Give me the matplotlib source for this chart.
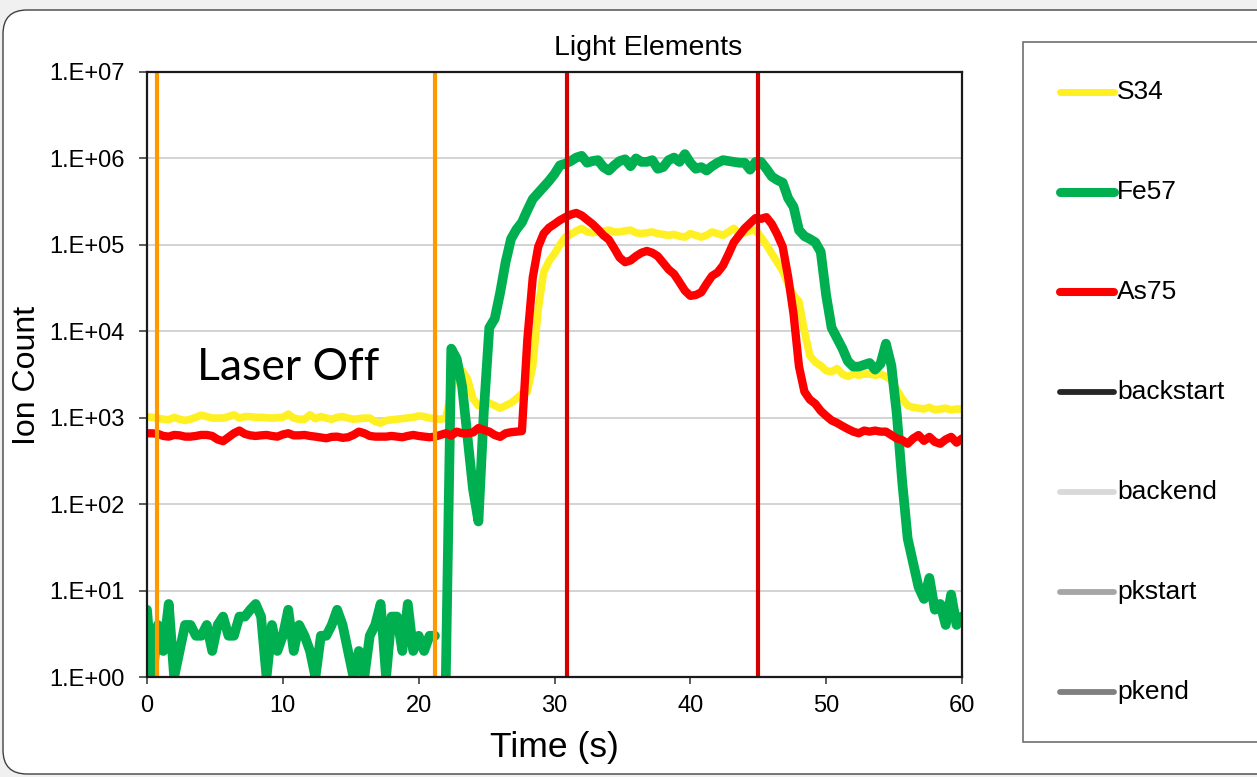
import numpy as np
import matplotlib.pyplot as plt
from matplotlib.lines import Line2D
from matplotlib.patches import FancyBboxPatch, Rectangle
from matplotlib.ticker import FuncFormatter, NullLocator
from matplotlib.transforms import IdentityTransform

W, H = 1257, 777

# one reading every 0.4 s, 0..60 s
dt = 0.4

s34 = [1030, 1010, 990, 960, 945, 1010, 960, 930, 960, 1010,
       1070, 1030, 990, 990, 990, 1030, 1080, 990, 1030, 1030,
       1010, 1010, 1000, 990, 1000, 1010, 1100, 990, 960, 960,
       1080, 975, 1030, 990, 960, 1010, 1030, 990, 960, 975,
       990, 990, 900, 865, 930, 945, 960, 975, 990, 1010,
       1050, 1030, 990, 975, 960, 990,
       2000, 4000, 3500, 2800, 1660, 1380, 1410, 1480, 1380, 1290,
       1380, 1480, 1660, 1900, 2000, 4000, 18000, 48000, 65000, 79000,
       100000, 123000, 132000, 145000, 155000, 141000, 138000, 141000, 145000, 148000,
       141000, 141000, 145000, 148000, 138000, 135000, 138000, 141000, 135000, 132000,
       129000, 132000, 126000, 123000, 135000, 129000, 123000, 129000, 141000, 135000,
       129000, 141000, 155000, 135000, 138000, 145000, 148000, 123000, 100000, 79000,
       63000, 50000, 35000, 26000, 22000, 10000, 5200, 4400, 4000, 3500,
       3400, 3700, 3200, 3000, 3200, 3100, 3200, 3200, 3100, 3200,
       3000, 2700, 2100, 1660, 1380, 1320, 1290, 1260, 1320, 1230,
       1260, 1290, 1230, 1260, 1260]

fe57 = [6, 1, 4, 2, 7, 1, 2, 4, 4, 3,
        3, 4, 2, 4, 5, 3, 3, 5, 5, 6,
        7, 5, 1, 4, 2, 3, 6,
        2, 4, 3, 2, 1, 3, 3, 4, 6, 4,
        2, 1, 2, 1, 3, 4, 7, 1, 5, 5,
        2, 7, 2, 3, 2, 3, 3,
        np.nan, 1, 6300, 4800, 2300, 590, 150, 63, 1200, 11000,
        14000, 28000, 63000, 117000, 151000, 182000, 251000, 339000, 398000, 468000,
        550000, 661000, 832000, 871000, 933000, 1023000, 1072000, 891000, 933000, 955000,
        794000, 724000, 832000, 933000, 977000, 813000, 1000000, 912000, 912000, 955000,
        759000, 794000, 955000, 1023000, 912000, 1122000, 891000, 759000, 794000, 724000,
        813000, 891000, 955000, 933000, 912000, 891000, 891000, 741000, 912000, 912000,
        759000, 617000, 562000, 525000, 347000, 275000, 148000, 126000, 117000, 107000,
        83000, 26000, 11000, 8300, 6300, 4500, 3900, 3900, 4100, 4300,
        3600, 4200, 7200, 4000, 1100, 180, 40, 21, 11, 8,
        14, 6, 7, 4, 9, 4, 5]

as75 = [660, 660, 650, 615, 604, 632, 625, 604, 604, 615,
        632, 632, 615, 560, 535, 594, 661, 710, 650, 625,
        615, 625, 632, 615, 604, 640, 661, 625, 625, 632,
        615, 604, 590, 578, 600, 604, 585, 594, 632, 690,
        661, 615, 604, 604, 604, 615, 604, 594, 615, 632,
        615, 604, 594, 604, 632, 661,
        620, 690, 660, 660, 675, 760, 720, 690, 630, 600,
        660, 680, 690, 700, 8000, 42000, 95000, 135000, 158000, 174000,
        193000, 209000, 224000, 234000, 219000, 195000, 174000, 151000, 129000, 115000,
        91000, 71000, 63000, 66000, 74000, 81000, 85000, 81000, 74000, 62000,
        52000, 46000, 37000, 29500, 25700, 26300, 28200, 35500, 43700, 47900,
        57500, 77600, 107000, 129000, 155000, 178000, 204000, 200000, 209000, 174000,
        132000, 95000, 42700, 15800, 3900, 2000, 1620, 1450, 1200, 1050,
        930, 870, 800, 740, 690, 660, 710, 690, 710, 690,
        690, 630, 575, 550, 500, 575, 630, 540, 600, 525,
        500, 560, 600, 515, 575]

# integration window markers (s)
marker_times = [0.77, 21.2, 30.95, 44.95]
marker_colors = ['#ff9900', '#ff9900', '#d40000', '#d40000']

legend_names = ['S34', 'Fe57', 'As75', 'backstart', 'backend', 'pkstart', 'pkend']
legend_colors = ['#fff023', '#00b050', '#ff0000', '#262626', '#d9d9d9', '#a6a6a6', '#808080']
legend_widths = [5.0, 6.5, 5.8, 4.2, 4.2, 4.2, 4.2]

time = np.arange(len(s34)) * dt

plt.rcParams['font.family'] = ['Liberation Sans', 'DejaVu Sans']

fig = plt.figure(figsize=(W / 100, H / 100), dpi=100)
fig.patch.set_facecolor('#f0f0f0')

# white chart area with rounded corners, running off the right edge
fig.add_artist(FancyBboxPatch((3, 3), 1320, 764,
                              boxstyle='round,pad=0,rounding_size=24',
                              transform=IdentityTransform(),
                              facecolor='white', edgecolor='#404040', lw=1, zorder=-2))
# legend frame
fig.add_artist(Rectangle((1023, 35), 300, 700, transform=IdentityTransform(),
                         facecolor='white', edgecolor='#707070', lw=1.2, zorder=-1))

ax = fig.add_axes([147 / W, (H - 677) / H, (962 - 147) / W, (677 - 72) / H])
ax.set_facecolor('white')

ax.plot(time, s34, color=legend_colors[0], lw=5.5, solid_joinstyle='round', solid_capstyle='round')
ax.plot(time, fe57, color=legend_colors[1], lw=7.0, solid_joinstyle='round', solid_capstyle='round')
ax.plot(time, as75, color=legend_colors[2], lw=6.0, solid_joinstyle='round', solid_capstyle='round')

for tv, c in zip(marker_times, marker_colors):
    ax.axvline(tv, color=c, lw=3)

ax.set_yscale('log')
ax.set_ylim(1, 1e7)
ax.set_xlim(0, 60)
ax.set_xticks(np.arange(0, 61, 10))
ax.set_yticks(10.0 ** np.arange(0, 8))
ax.yaxis.set_minor_locator(NullLocator())
ax.yaxis.set_major_formatter(FuncFormatter(lambda v, p: f'1.E+{int(round(np.log10(v))):02d}'))
ax.grid(axis='y', color='#d0d0d0', lw=1.3)
ax.set_axisbelow(True)

for sp in ax.spines.values():
    sp.set_color('#1a1a1a')
    sp.set_linewidth(1.6)
ax.tick_params(axis='y', direction='out', length=6, width=1.2, color='#404040', labelsize=17, pad=10)
ax.tick_params(axis='x', direction='out', length=5, width=1.2, color='#404040', labelsize=17, pad=8)

fig.text(648 / W, 1 - 48 / H, 'Light Elements', ha='center', va='center', fontsize=20.5)
fig.text(27 / W, 1 - 375 / H, 'Ion Count', rotation=90, ha='center', va='center', fontsize=23)
fig.text(554 / W, 1 - 748 / H, 'Time (s)', ha='center', va='center', fontsize=25.5)
fig.text(197 / W, 1 - 367 / H, 'Laser Off', ha='left', va='center', fontsize=32,
         family=['Lato', 'DejaVu Sans'])

# legend entries
for k, (name, col, lw) in enumerate(zip(legend_names, legend_colors, legend_widths)):
    yy = 1 - (92 + 100 * k) / H
    fig.add_artist(Line2D([1060 / W, 1114 / W], [yy, yy], color=col, lw=lw,
                          solid_capstyle='round'))
    fig.text(1117 / W, yy, name, ha='left', va='center', fontsize=19)

fig.savefig('out.png', dpi=100, facecolor=fig.get_facecolor())
